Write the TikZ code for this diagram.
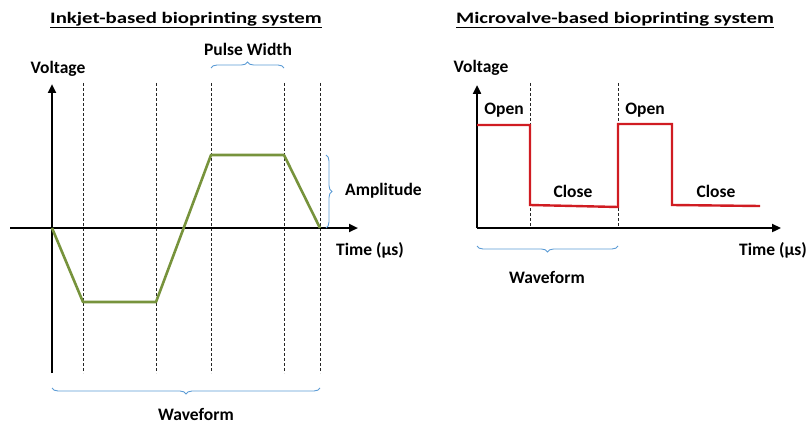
\documentclass[tikz,border=0pt]{standalone}
\usepackage{fontspec}
\setmainfont{Carlito}
\definecolor{wavegreen}{RGB}{119,147,60}
\definecolor{wavered}{RGB}{208,28,34}
\definecolor{braceblue}{RGB}{91,155,213}
\usetikzlibrary{arrows.meta, positioning, calc, decorations.pathreplacing}

\begin{document}
\begin{tikzpicture}[x=1pt, y=-1pt,
  axis/.style={line width=2.6pt, -{Triangle[length=9pt, width=8pt]}},
  guide/.style={dashed, dash pattern=on 3pt off 2pt, line width=0.7pt, black!85},
  lbl/.style={font=\bfseries\fontsize{17.5}{20}\selectfont, inner sep=1pt},
  ttl/.style={font=\bfseries\fontsize{16}{19}\selectfont, inner sep=1pt},
  bracebl/.style={braceblue, line width=0.9pt, decorate, decoration={brace, amplitude=6pt}}]
  \useasboundingbox (0,0) rectangle (811,425);

  % inkjet
  \node[ttl] (title1) at (186,20) {\scalebox{1.3}[1]{\underline{Inkjet-based bioprinting system}}};
  \coordinate (o1) at (52,228);
  \coordinate (vtop1) at (52,84);
  \coordinate (vbot1) at (52,373);
  \coordinate (hleft1) at (10,228);
  \coordinate (hright1) at (358,228);
  \foreach \x in {83,156,211,284,320}
    \draw[guide] (\x,83) -- (\x,373);
  \draw[axis] (vbot1) -- (vtop1);
  \draw[axis] (hleft1) -- (hright1);
  \node[lbl] (volt1) at (58,69) {Voltage};
  \node[lbl] (time1) at (370,250) {Time (µs)};

  \coordinate (dip1) at (83,302);
  \coordinate (dip2) at (156,302);
  \coordinate (top1) at (211,155);
  \coordinate (top2) at (284,155);
  \coordinate (end1) at (320,228);
  \draw[wavegreen, line width=2.6pt, line join=round] (o1) -- (dip1) -- (dip2) -- (top1) -- (top2) -- (end1);

  \draw[bracebl] (211,68) -- (284,68);
  \node[lbl] (pulse) at (248,49) {Pulse Width};
  \draw[bracebl] (326,155) -- (326,228);
  \node[lbl, anchor=west] (ampl) at (344,191) {Amplitude};
  \draw[bracebl] (320,388) -- (52,388);
  \node[lbl] (wave1) at (196,414) {Waveform};

  % microvalve
  \node[ttl] (title2) at (615,20) {\scalebox{1.3}[1]{\underline{Microvalve-based bioprinting system}}};
  \coordinate (o2) at (477,228);
  \coordinate (vtop2) at (477,85);
  \coordinate (hright2) at (781,228);
  \foreach \x in {530,618}
    \draw[guide] (\x,83) -- (\x,228);
  \draw[axis] (o2) -- (vtop2);
  \draw[axis] (o2) -- (hright2);
  \node[lbl] (volt2) at (481,68) {Voltage};
  \node[lbl] (time2) at (773,250) {Time (µs)};

  \draw[wavered, line width=2.4pt, line join=miter] (477,125) -- (530,125) -- (530,205) -- (618,207)
    -- (618,124) -- (672,124) -- (672,205) -- (760,206);
  \node[lbl] (open1) at (504,110) {Open};
  \node[lbl] (open2) at (645,110) {Open};
  \node[lbl] (close1) at (573,191) {Close};
  \node[lbl] (close2) at (716,191) {Close};

  \draw[bracebl] (618,246) -- (477,246);
  \node[lbl] (wave2) at (547,277) {Waveform};
\end{tikzpicture}
\end{document}
